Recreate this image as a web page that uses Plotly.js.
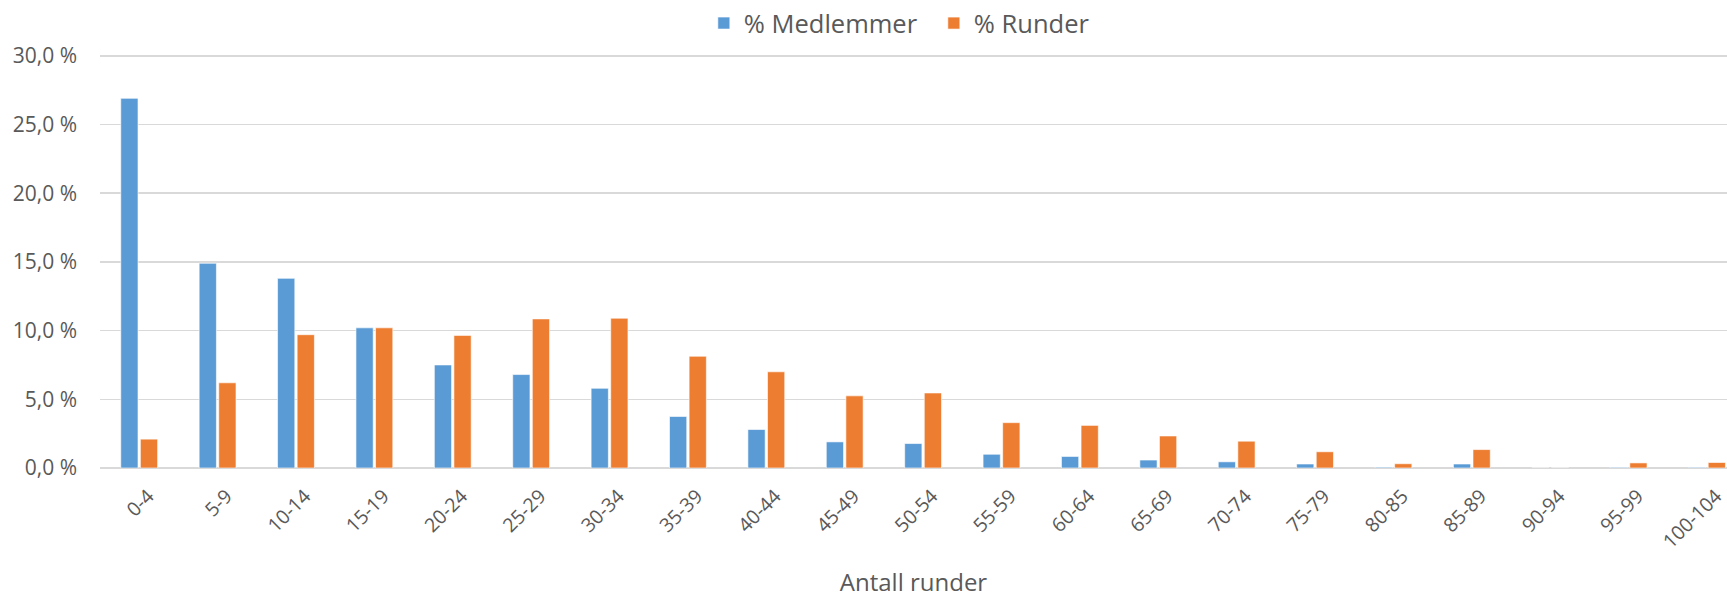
<!DOCTYPE html>
<html>
<head>
<meta charset="utf-8">
<script src="https://cdn.plot.ly/plotly-3.0.1.min.js"></script>
<style>
    html, body { margin: 0; padding: 0; background: #fff; }
    #chart { width: 1727px; height: 598px; }
</style>
</head>
<body>
<div id="chart"></div>
<script>
const categories = ['0-4', '5-9', '10-14', '15-19', '20-24', '25-29', '30-34', '35-39', '40-44', '45-49',
    '50-54', '55-59', '60-64', '65-69', '70-74', '75-79', '80-85', '85-89', '90-94', '95-99', '100-104'];

const medlemmer = [26.9, 14.9, 13.8, 10.2, 7.5, 6.8, 5.8, 3.75, 2.8, 1.9,
    1.78, 1.0, 0.84, 0.58, 0.45, 0.29, 0.06, 0.29, 0, 0.05, 0.05];

const runder = [2.1, 6.2, 9.7, 10.2, 9.65, 10.85, 10.9, 8.13, 7.0, 5.25,
    5.46, 3.3, 3.1, 2.33, 1.95, 1.18, 0.31, 1.34, 0, 0.37, 0.4];

window.onload = () => {
    const textColor = '#595959';
    const font = 'Open Sans, Noto Sans, sans-serif';

    const medlemmerTrace = {
        name: '% Medlemmer',
        type: 'bar',
        x: categories,
        y: medlemmer,
        marker: {
            color: '#5B9BD5',
            line: { color: 'rgba(255,255,255,0.6)', width: 1 }
        },
        hoverinfo: 'skip'
    };

    const runderTrace = {
        name: '% Runder',
        type: 'bar',
        x: categories,
        y: runder,
        marker: {
            color: '#ED7D31',
            line: { color: 'rgba(255,255,255,0.6)', width: 1 }
        },
        hoverinfo: 'skip'
    };

    const layout = {
        width: 1727,
        height: 598,
        margin: { l: 100, r: 0, t: 49, b: 130 },
        paper_bgcolor: '#ffffff',
        plot_bgcolor: '#ffffff',
        font: { family: font, color: textColor },
        separators: ', ',
        barmode: 'group',
        bargap: 0.5,
        bargroupgap: 0.12,
        showlegend: true,
        legend: {
            orientation: 'h',
            x: 0.5125,
            xanchor: 'center',
            y: 1.072,
            yanchor: 'middle',
            font: { size: 25.5, color: textColor, family: font },
            itemwidth: 30,
            entrywidth: 185
        },
        xaxis: {
            type: 'category',
            range: [-0.5, 20.255],
            tickangle: -45,
            tickfont: { size: 19.5, color: textColor },
            ticklabelshift: 9,
            ticklabelstandoff: 12,
            showgrid: false,
            showline: false,
            zeroline: false,
            title: {
                text: 'Antall runder',
                font: { size: 24, color: textColor },
                standoff: 37
            }
        },
        yaxis: {
            range: [0, 30.2],
            dtick: 5,
            tickformat: '.1f',
            ticksuffix: ' %',
            tickfont: { size: 21, color: textColor },
            gridcolor: '#D9D9D9',
            gridwidth: 1.5,
            zeroline: true,
            zerolinecolor: '#D9D9D9',
            zerolinewidth: 2,
            showline: false,
            ticklabelstandoff: 22
        }
    };

    Plotly.newPlot('chart', [medlemmerTrace, runderTrace], layout, { displayModeBar: false, staticPlot: true });
};
</script>
</body>
</html>
